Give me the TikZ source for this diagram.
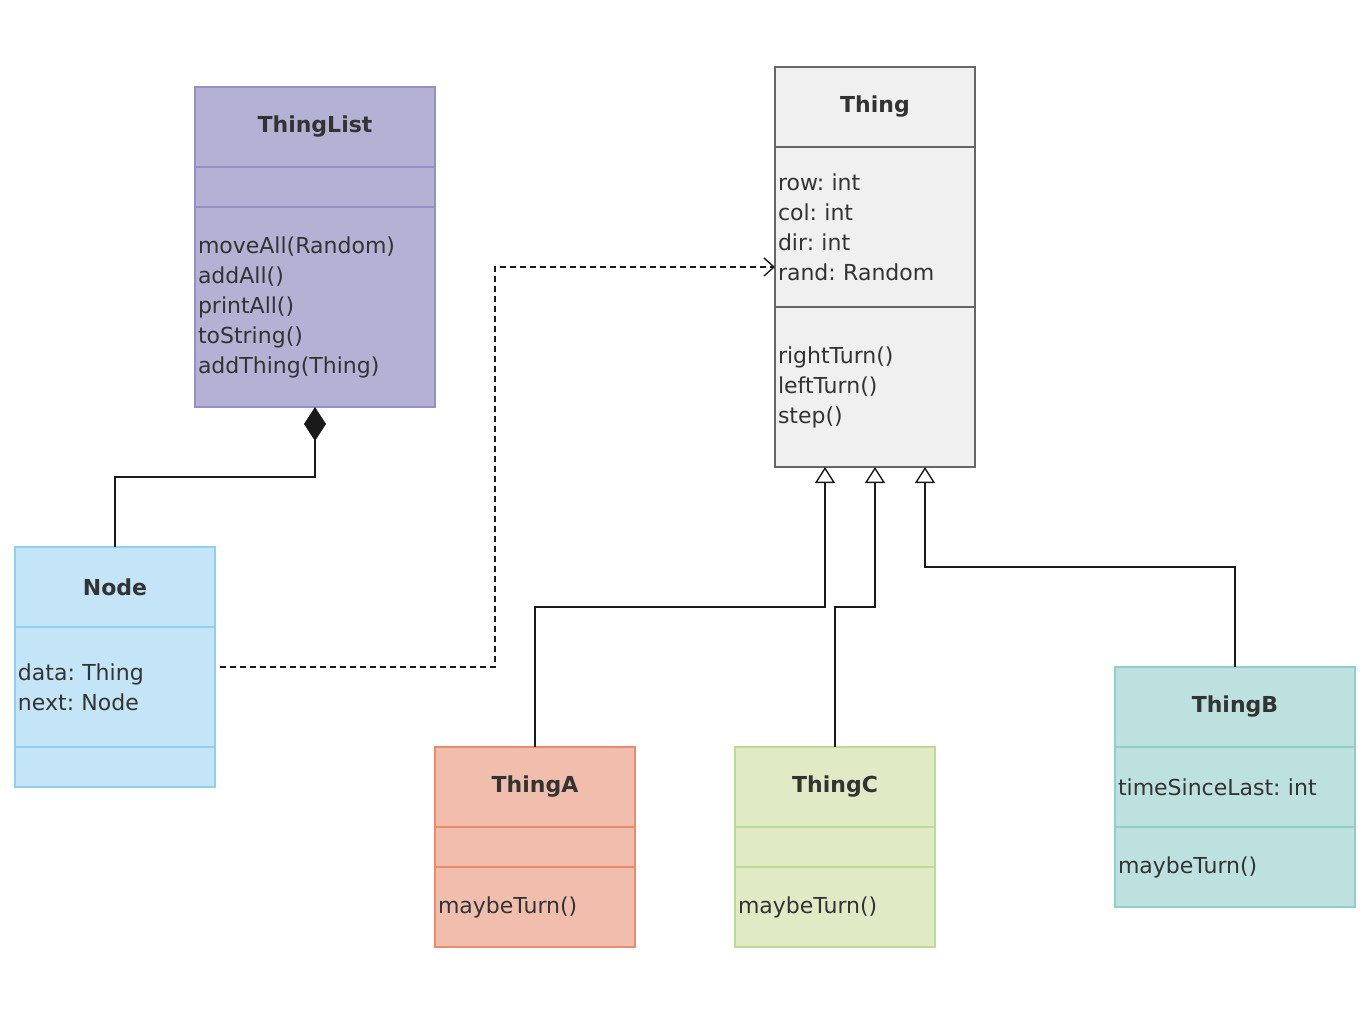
\documentclass[tikz,border=0pt]{standalone}
\usepackage{fontspec}
\setmainfont{DejaVu Sans}
\usetikzlibrary{arrows.meta,positioning}
\frenchspacing

\definecolor{lstfill}{HTML}{B4B1D5}
\definecolor{lstline}{HTML}{9490C6}
\definecolor{thgfill}{HTML}{F0F0F0}
\definecolor{thgline}{HTML}{666666}
\definecolor{ndfill}{HTML}{C3E5F7}
\definecolor{ndline}{HTML}{90CFF2}
\definecolor{tafill}{HTML}{F1BEAD}
\definecolor{taline}{HTML}{EB8A6D}
\definecolor{tcfill}{HTML}{E0EBC6}
\definecolor{tcline}{HTML}{BCDB94}
\definecolor{tbfill}{HTML}{BCE1DE}
\definecolor{tbline}{HTML}{92CEC9}
\definecolor{txtgray}{HTML}{333333}
\definecolor{linegray}{HTML}{1A1A1A}

\begin{document}
\begin{tikzpicture}[
  x=0.5pt, y=-0.5pt,
  node distance=0pt,
  cls/.style={draw=#1line, fill=#1fill, line width=0.8pt, outer sep=0pt,
    inner xsep=1.5pt, inner ysep=0pt, text=txtgray,
    font=\fontsize{11}{15}\selectfont},
  head/.style={minimum height=40pt, align=center,
    font=\fontsize{11}{15}\selectfont\bfseries},
  part/.style={align=left},
  narrow/.style={text width=97pt},
  wide/.style={text width=117pt},
  compo/.style={-{Diamond[length=17pt,width=11pt]}, line width=0.9pt, draw=linegray},
  dep/.style={-{Straight Barb[length=5pt,width=9pt,line width=0.7pt]}, dash pattern=on 3pt off 2pt, line width=0.7pt, draw=linegray},
  inh/.style={-{Triangle[length=8pt,width=10pt,fill=white,line width=0.7pt]}, line width=0.9pt, draw=linegray}
]
  \useasboundingbox (0,0) rectangle (1370,1034);

  % ThingList
  \node[cls=lst, head, wide, anchor=north west] (tl-head) at (195,87) {ThingList};
  \node[cls=lst, part, wide, minimum height=20pt, below=of tl-head] (tl-attr) {};
  \node[cls=lst, part, wide, minimum height=100pt, below=of tl-attr] (tl-ops)
    {moveAll(Random)\\addAll()\\printAll()\\toString()\\addThing(Thing)};

  % Thing
  \node[cls=thg, head, narrow, anchor=north west] (th-head) at (775,67) {Thing};
  \node[cls=thg, part, narrow, minimum height=80pt, below=of th-head] (th-attr)
    {row: int\\col: int\\dir: int\\rand: Random};
  \node[cls=thg, part, narrow, minimum height=80pt, below=of th-attr] (th-ops)
    {rightTurn()\\leftTurn()\\step()};

  % Node
  \node[cls=nd, head, narrow, anchor=north west] (nd-head) at (15,547) {Node};
  \node[cls=nd, part, narrow, minimum height=60pt, below=of nd-head] (nd-attr)
    {data: Thing\\next: Node};
  \node[cls=nd, part, narrow, minimum height=20pt, below=of nd-attr] (nd-ops) {};

  % ThingA
  \node[cls=ta, head, narrow, anchor=north west] (ta-head) at (435,747) {ThingA};
  \node[cls=ta, part, narrow, minimum height=20pt, below=of ta-head] (ta-attr) {};
  \node[cls=ta, part, narrow, minimum height=40pt, below=of ta-attr] (ta-ops) {maybeTurn()};

  % ThingC
  \node[cls=tc, head, narrow, anchor=north west] (tc-head) at (735,747) {ThingC};
  \node[cls=tc, part, narrow, minimum height=20pt, below=of tc-head] (tc-attr) {};
  \node[cls=tc, part, narrow, minimum height=40pt, below=of tc-attr] (tc-ops) {maybeTurn()};

  % ThingB
  \node[cls=tb, head, wide, anchor=north west] (tb-head) at (1115,667) {ThingB};
  \node[cls=tb, part, wide, minimum height=40pt, below=of tb-head] (tb-attr) {timeSinceLast: int};
  \node[cls=tb, part, wide, minimum height=40pt, below=of tb-attr] (tb-ops) {maybeTurn()};

  % relations
  \draw[compo] (nd-head.north) |- (315,477) -- (tl-ops.south);
  \draw[dep] ([xshift=2.5pt,yshift=10pt]nd-attr.east) -| (495,267) -- ([yshift=-20pt]th-attr.west);
  \draw[inh] (ta-head.north) |- (825,607) -- ([xshift=-25pt]th-ops.south);
  \draw[inh] (tc-head.north) |- (875,607) -- (th-ops.south);
  \draw[inh] (tb-head.north) |- (925,567) -- ([xshift=25pt]th-ops.south);
\end{tikzpicture}
\end{document}
